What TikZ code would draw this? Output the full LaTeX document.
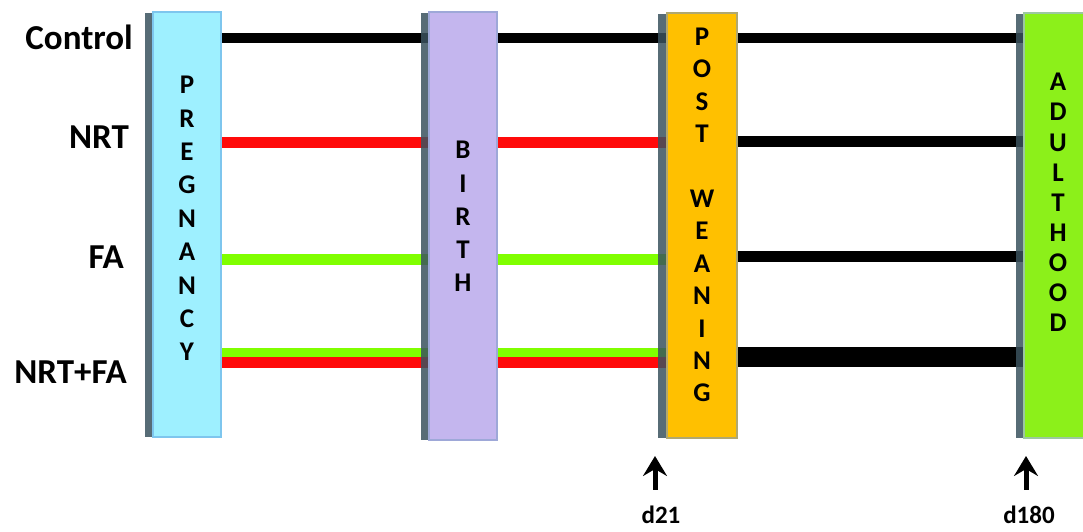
\documentclass[tikz,border=0pt]{standalone}
\usepackage{fontspec}
\setmainfont{Carlito}
\usetikzlibrary{arrows.meta,backgrounds}
\definecolor{pregc}{HTML}{9EF0FF}
\definecolor{pregb}{HTML}{7EC6EE}
\definecolor{birthc}{HTML}{C4B6EE}
\definecolor{birthb}{HTML}{9EA8D8}
\definecolor{postc}{HTML}{FFC000}
\definecolor{postb}{HTML}{B0A870}
\definecolor{adultc}{HTML}{8CF01A}
\definecolor{adultb}{HTML}{9CC8A0}
\definecolor{shadowc}{HTML}{3A525E}
\definecolor{redl}{HTML}{FF0A0A}
\definecolor{greenl}{HTML}{80FF00}
\begin{document}
\begin{tikzpicture}[x=1pt,y=-1pt,
  phase/.style={draw, line width=1.2pt, inner sep=0pt},
  vtext/.style={font=\bfseries\fontsize{27}{#1}\selectfont, align=center, inner sep=0pt},
  rowlabel/.style={font=\bfseries\fontsize{35}{40}\selectfont, anchor=east, inner sep=0pt},
  daylabel/.style={font=\bfseries\fontsize{25}{28}\selectfont, inner sep=0pt},
  blackl/.style={line width=#1, black},
  redline/.style={line width=#1, redl},
  greenline/.style={line width=#1, greenl},
  shade/.style={fill=shadowc, opacity=0.85},
  uparrow/.style={line width=5pt, -{Stealth[width=24pt,length=20pt,inset=7pt]}}
]
\useasboundingbox (0,0) rectangle (1083,531);

% phase boxes
\node[phase, draw=pregb, fill=pregc, minimum width=68pt, minimum height=425pt] (preg) at (187,224.5) {};
\node[phase, draw=birthb, fill=birthc, minimum width=68pt, minimum height=428pt] (birth) at (463,226) {};
\node[phase, draw=postb, fill=postc, minimum width=70pt, minimum height=425pt] (post) at (702,225.5) {};
\node[phase, draw=adultb, fill=adultc, minimum width=68pt, minimum height=425pt] (adult) at (1058,225.5) {};

% vertical texts
\node[vtext=33.4] (pregt) at (187,218.5) {P\\R\\E\\G\\N\\A\\N\\C\\Y};
\node[vtext=33.2] (birtht) at (463,216.5) {B\\I\\R\\T\\H};
\node[vtext=32.4] (postt) at (702,215) {P\\O\\S\\T\\\strut\\W\\E\\A\\N\\I\\N\\G};
\node[vtext=30.1] (adultt) at (1058,202.5) {A\\D\\U\\L\\T\\H\\O\\O\\D};

% row labels
\node[rowlabel] (lc) at (133,37) {Control};
\node[rowlabel] (ln) at (129,137) {NRT};
\node[rowlabel] (lf) at (124,257) {FA};
\node[rowlabel] (lnf) at (127,372) {NRT+FA};

% row coordinates
\coordinate (rc) at (0,37.5);
\coordinate (rn) at (0,142);
\coordinate (rf) at (0,259);
\coordinate (rg2) at (0,352.5);
\coordinate (rr2) at (0,362.5);
\coordinate (rnR) at (0,141);
\coordinate (rfR) at (0,256);
\coordinate (rnfR) at (0,357);

% day labels and arrows
\node[daylabel] (d21) at (661,515) {d21};
\node[daylabel] (d180) at (1029,515) {d180};
\coordinate (t21) at (655,456);
\coordinate (t180) at (1026,456);
\draw[uparrow] ([yshift=16pt]d21.north -| t21) -- (t21);
\draw[uparrow] ([yshift=16pt]d180.north -| t180) -- (t180);

\begin{scope}[on background layer]
  % pregnancy -> birth
  \draw[blackl=10pt] (preg.east |- rc) -- (birth.west |- rc);
  \draw[redline=11pt] (preg.east |- rn) -- (birth.west |- rn);
  \draw[greenline=11pt] (preg.east |- rf) -- (birth.west |- rf);
  \draw[greenline=9pt] (preg.east |- rg2) -- (birth.west |- rg2);
  \draw[redline=11pt] (preg.east |- rr2) -- (birth.west |- rr2);
  % birth -> post weaning
  \draw[blackl=10pt] (birth.east |- rc) -- (post.west |- rc);
  \draw[redline=11pt] (birth.east |- rn) -- (post.west |- rn);
  \draw[greenline=11pt] (birth.east |- rf) -- (post.west |- rf);
  \draw[greenline=9pt] (birth.east |- rg2) -- (post.west |- rg2);
  \draw[redline=11pt] (birth.east |- rr2) -- (post.west |- rr2);
  % post weaning -> adulthood
  \draw[blackl=10pt] (post.east |- rc) -- (adult.west |- rc);
  \draw[blackl=11pt] (post.east |- rnR) -- (adult.west |- rnR);
  \draw[blackl=11pt] (post.east |- rfR) -- (adult.west |- rfR);
  \draw[blackl=20pt] (post.east |- rnfR) -- (adult.west |- rnfR);
  % shadows
  \fill[shade] ([xshift=-7pt,yshift=-2pt]preg.north west) rectangle ([yshift=1pt]preg.south west);
  \fill[shade] ([xshift=-7pt,yshift=-2pt]birth.north west) rectangle ([yshift=1pt]birth.south west);
  \fill[shade] ([xshift=-8pt,yshift=-2pt]post.north west) rectangle ([yshift=1pt]post.south west);
  \fill[shade] ([xshift=-7pt,yshift=-2pt]adult.north west) rectangle ([yshift=1pt]adult.south west);
\end{scope}
\end{tikzpicture}
\end{document}
